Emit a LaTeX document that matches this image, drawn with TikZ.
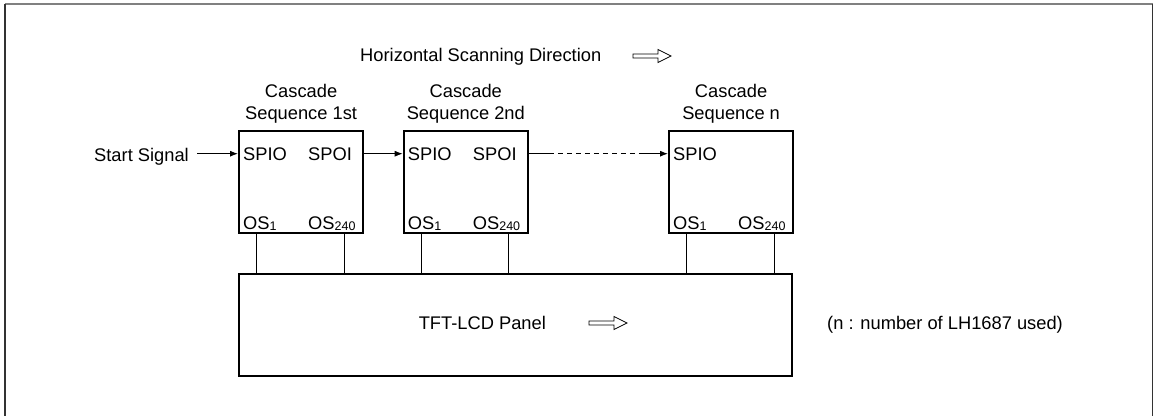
\documentclass[tikz,border=0pt]{standalone}
\usepackage{fontspec}
\setmainfont{Liberation Sans}
\usetikzlibrary{arrows.meta,calc,positioning}
\newcommand{\subsc}[1]{{\fontsize{12.5}{12.5}\selectfont\raisebox{-1pt}{#1}}}
\begin{document}
\begin{tikzpicture}[x=1pt,y=-1pt,
  font=\fontsize{18.3}{22}\selectfont,
  chip/.style={draw, line width=2.2pt, minimum width=124pt, minimum height=102pt, inner sep=0pt, anchor=north west},
  title/.style={align=center, anchor=south, inner sep=0pt},
  lbl/.style={inner sep=0pt, anchor=base west},
  wire/.style={line width=0.9pt},
  sig/.style={line width=0.9pt, -{Latex[length=8pt,width=6pt]}},
  pics/hollowarrow/.style={code={\draw[line width=0.8pt, fill=white] (0,-2) -- (25,-2) -- (25,-6.5) -- (38,0) -- (25,6.5) -- (25,2) -- (0,2) -- cycle;}}]
\useasboundingbox (0,0) rectangle (1155,416);
% outer frame
\draw[line width=1.3pt, gray] (4.5,4) -- (1152.5,4);
\draw[line width=1.3pt, black!80] (5,4) -- (5,416);
\draw[line width=1.3pt, black!80] (1152.5,4) -- (1152.5,416);

% heading
\node[lbl] (head) at (360,61) {Horizontal Scanning Direction};
\pic at (633,56) {hollowarrow};

% chips
\node[chip] (box1) at (238,130) {};
\node[chip] (box2) at (402.7,130) {};
\node[chip] (box3) at (668,130) {};

\node[title, above=7pt of box1] (t1) {Cascade\\Sequence 1st};
\node[title, above=7pt of box2] (t2) {Cascade\\Sequence 2nd};
\node[title, above=7pt of box3] (t3) {Cascade\\Sequence n};

% pin labels
\node[lbl] (spio1) at ($(box1.north west)+(5,30)$) {SPIO};
\node[lbl] (spoi1) at ($(box1.north west)+(70,30)$) {SPOI};
\node[lbl] (os1a) at ($(box1.north west)+(5,99)$) {OS\subsc{1}};
\node[lbl] (os1b) at ($(box1.north west)+(70,99)$) {OS\subsc{240}};

\node[lbl] (spio2) at ($(box2.north west)+(5,30)$) {SPIO};
\node[lbl] (spoi2) at ($(box2.north west)+(70,30)$) {SPOI};
\node[lbl] (os2a) at ($(box2.north west)+(5,99)$) {OS\subsc{1}};
\node[lbl] (os2b) at ($(box2.north west)+(70,99)$) {OS\subsc{240}};

\node[lbl] (spio3) at ($(box3.north west)+(5,30)$) {SPIO};
\node[lbl] (os3a) at ($(box3.north west)+(5,99)$) {OS\subsc{1}};
\node[lbl] (os3b) at ($(box3.north west)+(70,99)$) {OS\subsc{240}};

% start signal
\node[lbl, anchor=base east] (start) at (189,161) {Start Signal};
\draw[sig] ([xshift=8pt]start.east |- spoi1.east) -- (spoi1.east -| box1.west);

% cascade links
\draw[sig] (spoi1.east -| box1.east) -- (spoi1.east -| box2.west);
\draw[wire] (spoi2.east -| box2.east) -- ++(20,0) coordinate (d1);
\draw[wire, dash pattern=on 5pt off 4pt] (d1) -- ++(91,0) coordinate (d2);
\draw[sig] (d2) -- (d2 -| box3.west);

% panel
\node[chip, minimum width=552.8pt, minimum height=101.8pt] (panel) at (238,272.8) {};
\node[lbl] (ptext) at (418.6,329) {TFT-LCD Panel};
\pic at (589,323) {hollowarrow};
\node[lbl] (note) at (827,329) {(n : number of LH1687 used)};

% output wires
\foreach \b in {box1,box2,box3}{
  \coordinate (\b-a) at ($(\b.south west)+(18.5,0)$);
  \coordinate (\b-b) at ($(\b.south west)+(106,0)$);
  \draw[wire] (\b-a) -- (\b-a |- panel.north);
  \draw[wire] (\b-b) -- (\b-b |- panel.north);
}
\end{tikzpicture}
\end{document}
